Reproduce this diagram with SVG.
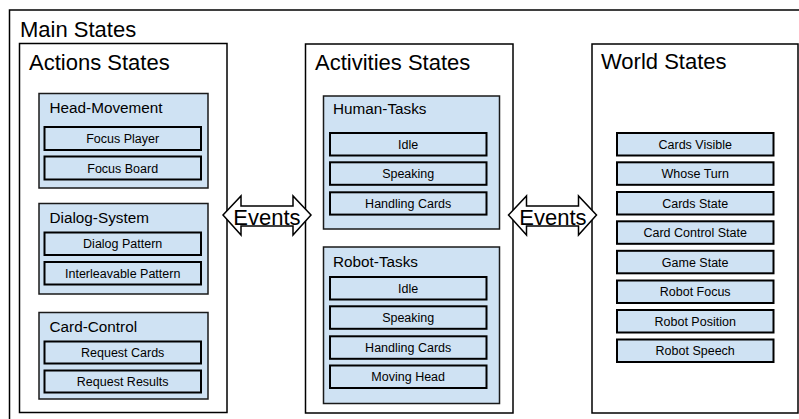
<svg xmlns="http://www.w3.org/2000/svg" width="799" height="419" viewBox="0 0 799 419">
  <style>
    text { font-family: "Liberation Sans", Arial, sans-serif; fill: #000; }
    .frame { fill: #fff; stroke: #000; stroke-width: 1.5; }
    .group { fill: #cfe2f3; stroke: #1a1a1a; stroke-width: 1.5; }
    .item { fill: #cfe2f3; stroke: #000; stroke-width: 2; }
    .big { font-size: 22px; }
    .title { font-size: 15.3px; }
    .label { font-size: 12.5px; text-anchor: middle; }
    .arrow { fill: #fff; stroke: #000; stroke-width: 1.5; stroke-linejoin: miter; }
    .ev { font-size: 22px; text-anchor: middle; }
  </style>

  <!-- outer container -->
  <g id="main-states">
    <rect class="frame" x="9.5" y="10" width="800" height="420"/>
    <text class="big" x="20" y="37">Main States</text>
  </g>

  <!-- left column: actions -->
  <g id="actions-states">
    <rect class="frame" x="19.5" y="43.5" width="207.5" height="369"/>
    <text class="big" x="29" y="70">Actions States</text>
  </g>

  <g id="head-movement">
    <rect class="group" x="39" y="93.5" width="169" height="94.5"/>
    <text class="title" x="49.5" y="113">Head-Movement</text>
    <rect class="item" x="44.5" y="127" width="156.5" height="23"/>
    <text class="label" x="122.7" y="143">Focus Player</text>
    <rect class="item" x="44.5" y="156.5" width="156.5" height="23"/>
    <text class="label" x="122.7" y="172.5">Focus Board</text>
  </g>

  <g id="dialog-system">
    <rect class="group" x="39" y="203.5" width="169" height="90.5"/>
    <text class="title" x="49.5" y="222.5">Dialog-System</text>
    <rect class="item" x="44.5" y="232.5" width="156.5" height="22.5"/>
    <text class="label" x="122.7" y="248">Dialog Pattern</text>
    <rect class="item" x="44.5" y="262" width="156.5" height="22.5"/>
    <text class="label" x="122.7" y="277.5">Interleavable Pattern</text>
  </g>

  <g id="card-control">
    <rect class="group" x="39" y="312.5" width="169" height="86.5"/>
    <text class="title" x="49.5" y="331.5">Card-Control</text>
    <rect class="item" x="44.5" y="341.5" width="156.5" height="22"/>
    <text class="label" x="122.7" y="357">Request Cards</text>
    <rect class="item" x="44.5" y="370.5" width="156.5" height="22"/>
    <text class="label" x="122.7" y="386">Request Results</text>
  </g>

  <!-- middle column: activities -->
  <g id="activities-states">
    <rect class="frame" x="305.5" y="44" width="207.5" height="369"/>
    <text class="big" x="315" y="70">Activities States</text>
  </g>

  <g id="human-tasks">
    <rect class="group" x="323.5" y="96" width="176" height="133"/>
    <text class="title" x="333" y="114">Human-Tasks</text>
    <rect class="item" x="330" y="133" width="156.5" height="22.5"/>
    <text class="label" x="408.2" y="148.5">Idle</text>
    <rect class="item" x="330" y="162.3" width="156.5" height="22.5"/>
    <text class="label" x="408.2" y="178">Speaking</text>
    <rect class="item" x="330" y="192.3" width="156.5" height="22.3"/>
    <text class="label" x="408.2" y="208">Handling Cards</text>
  </g>

  <g id="robot-tasks">
    <rect class="group" x="323.5" y="247" width="176" height="156.5"/>
    <text class="title" x="333" y="266.5">Robot-Tasks</text>
    <rect class="item" x="330" y="277" width="156.5" height="22.5"/>
    <text class="label" x="408.2" y="292.5">Idle</text>
    <rect class="item" x="330" y="306.3" width="156.5" height="22.5"/>
    <text class="label" x="408.2" y="322">Speaking</text>
    <rect class="item" x="330" y="336.3" width="156.5" height="22.5"/>
    <text class="label" x="408.2" y="352">Handling Cards</text>
    <rect class="item" x="330" y="365.5" width="156.5" height="22.5"/>
    <text class="label" x="408.2" y="381">Moving Head</text>
  </g>

  <!-- right column: world -->
  <g id="world-states">
    <rect class="frame" x="592" y="44" width="206" height="369"/>
    <text class="big" x="601" y="69">World States</text>
    <rect class="item" x="617" y="133" width="156.5" height="22.5"/>
    <text class="label" x="695.2" y="148.5">Cards Visible</text>
    <rect class="item" x="617" y="162.3" width="156.5" height="22.5"/>
    <text class="label" x="695.2" y="178">Whose Turn</text>
    <rect class="item" x="617" y="192" width="156.5" height="22.5"/>
    <text class="label" x="695.2" y="207.5">Cards State</text>
    <rect class="item" x="617" y="221.3" width="156.5" height="22.5"/>
    <text class="label" x="695.2" y="237">Card Control State</text>
    <rect class="item" x="617" y="250.8" width="156.5" height="22.5"/>
    <text class="label" x="695.2" y="266.5">Game State</text>
    <rect class="item" x="617" y="280.5" width="156.5" height="22.5"/>
    <text class="label" x="695.2" y="296">Robot Focus</text>
    <rect class="item" x="617" y="310" width="156.5" height="22.5"/>
    <text class="label" x="695.2" y="325.5">Robot Position</text>
    <rect class="item" x="617" y="339.5" width="156.5" height="22.5"/>
    <text class="label" x="695.2" y="355">Robot Speech</text>
  </g>

  <!-- event flows between columns -->
  <g id="connectors">
    <polygon class="arrow" points="223,215 241,196 241,206 293,206 293,196 311,215 293,235 293,226 241,226 241,235"/>
    <text class="ev" x="267" y="225">Events</text>
    <polygon class="arrow" points="508.5,215 526.5,196 526.5,206 578.5,206 578.5,196 596.5,215 578.5,235 578.5,226 526.5,226 526.5,235"/>
    <text class="ev" x="553" y="225">Events</text>
  </g>
</svg>
